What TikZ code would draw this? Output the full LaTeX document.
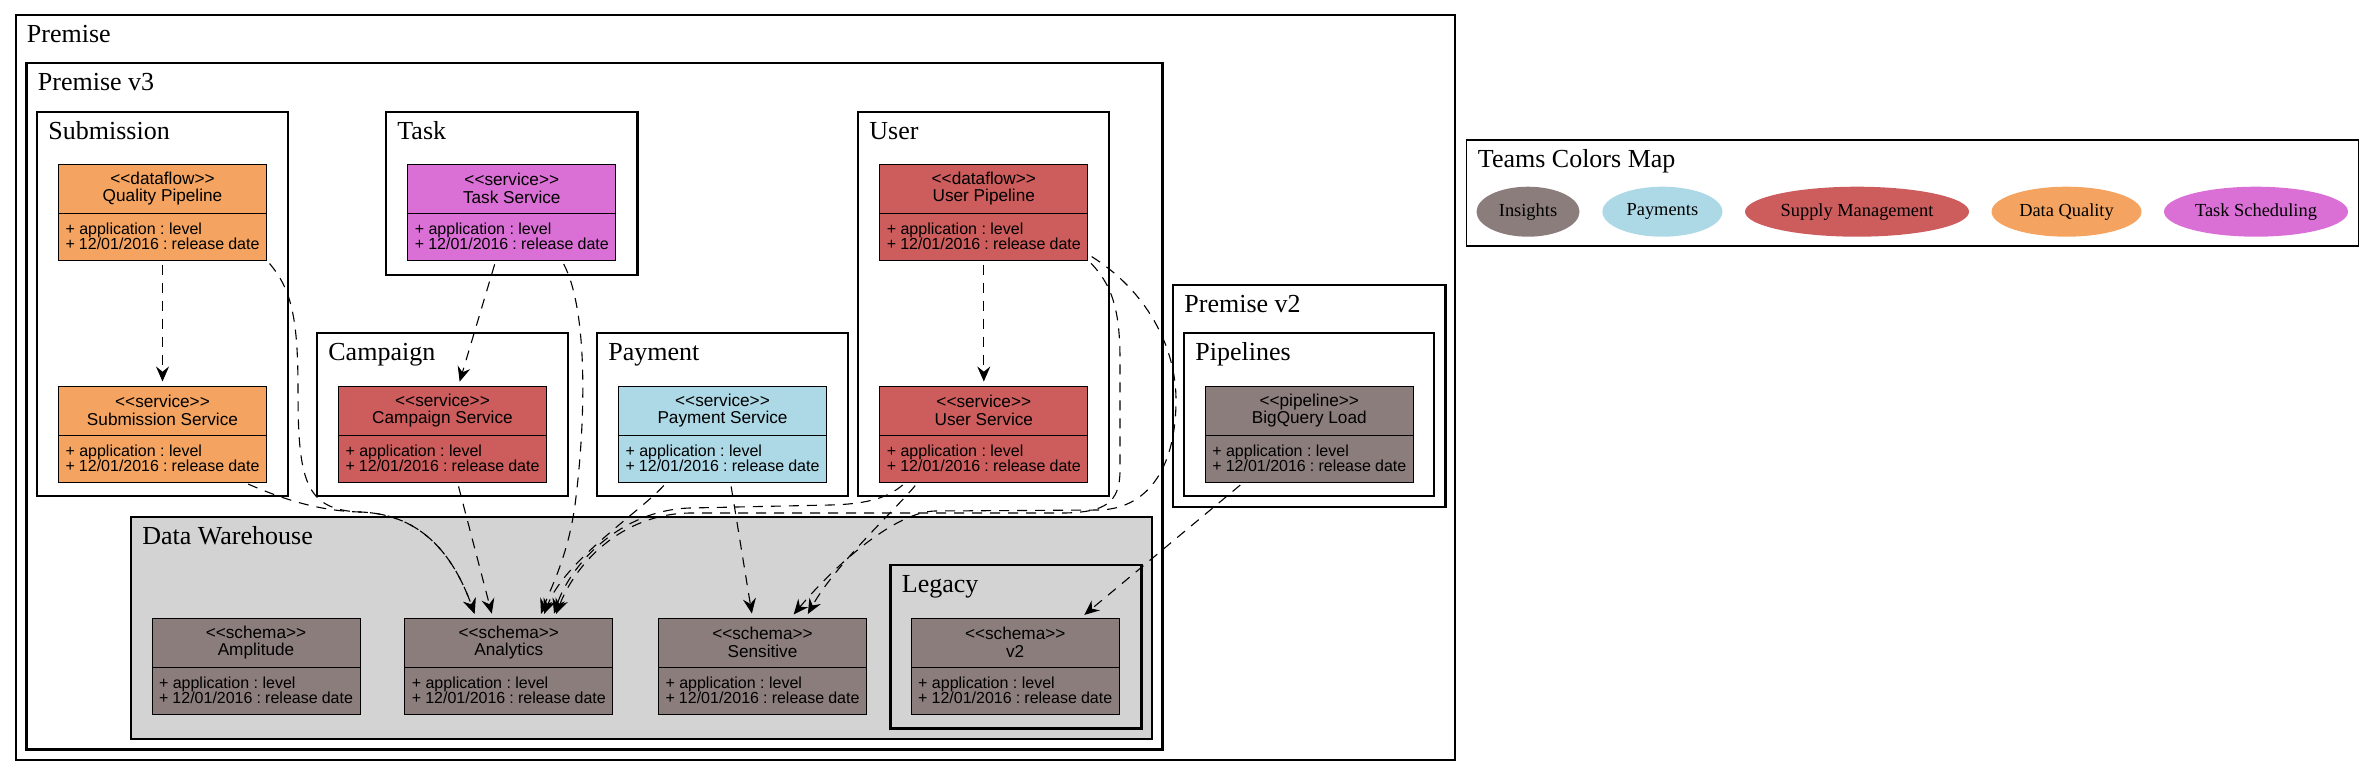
\documentclass[tikz,border=0pt]{standalone}
\usepackage{tikz}
\usepackage{xcolor}
\usepackage{fontspec}
\usetikzlibrary{shapes.multipart,shapes.geometric,arrows.meta}
\setmainfont{Liberation Serif}
\newfontfamily\umlfont{Liberation Sans}

\definecolor{insights}{HTML}{8B7D7B}
\definecolor{payments}{HTML}{ADD8E6}
\definecolor{supply}{HTML}{CD5C5C}
\definecolor{quality}{HTML}{F4A460}
\definecolor{scheduling}{HTML}{DA70D6}
\definecolor{warehouse}{HTML}{D3D3D3}

\newcommand{\Stereo}[1]{<\kern0pt<#1>\kern0pt>}
\newcommand{\Uml}[2]{%
	\parbox[c][24pt][c]{97pt}{\centering\lineskiplimit=-\maxdimen\fontsize{8.6}{8.8}\selectfont\Stereo{#1}\\#2}%
	\nodepart{two}%
	\parbox[c][23pt][c]{97pt}{\lineskiplimit=-\maxdimen\fontsize{8}{7.4}\selectfont + application : level\\+ 12/01/2016 : release date}}
\newcommand{\Cluster}[7][]{%
	\draw[cluster,#1] (#3,#4) rectangle (#5,#6);
	\node[clusterlabel] (#2) at (#3+11,#4+27) {#7};}

\begin{document}
\begin{tikzpicture}[x=0.5pt,y=-0.5pt]
				\tikzset{
				cluster/.style 		= {draw, line width=1.3pt},
				clusterlabel/.style = {anchor=base west, inner sep=0pt, font=\fontsize{13}{15}\selectfont},
				umlclass/.style 	= {rectangle split, rectangle split parts=2, draw, line width=0.5pt,
					inner xsep=3.5pt, inner ysep=0pt, font=\umlfont\frenchspacing},
				team/.style 		= {ellipse, inner sep=0pt, minimum height=25pt, font=\fontsize{9.2}{11}\selectfont},
				dep/.style 			= {dash pattern=on 5pt off 4pt, line width=0.55pt,
					-{Stealth[length=7.5pt, width=6.5pt, inset=2.6pt]}, shorten <=2pt, shorten >=2pt}}
				\useasboundingbox (0,0) rectangle (2375,776);
				
				\Cluster[line width=1pt]{premise}{15.5}{15}{1455}{759.5}{Premise}
				\Cluster{premisevthree}{26.5}{63}{1162.5}{749.3}{Premise v3}
				\Cluster{submission}{37}{112}{288}{496}{Submission}
				\Cluster{task}{386}{112}{637.5}{275}{Task}
				\Cluster{campaign}{317}{333}{568}{496}{Campaign}
				\Cluster{payment}{597}{333}{848}{496}{Payment}
				\Cluster{user}{858}{112}{1109}{496}{User}
				\Cluster[fill=warehouse]{warehouse}{131}{517}{1152}{739}{Data Warehouse}
				\Cluster[fill=warehouse]{legacy}{890.5}{565}{1141.5}{728.5}{Legacy}
				\Cluster{premisevtwo}{1173}{285}{1445.5}{507}{Premise v2}
				\Cluster{pipelines}{1184}{333}{1434}{496}{Pipelines}
				\Cluster[line width=0.6pt]{teams}{1466.5}{140}{2358.5}{246}{Teams Colors Map}
				
				\node[umlclass, fill=quality] (qualitypipe) at (162.5,212) {\Uml{dataflow}{Quality Pipeline}};
				\node[umlclass, fill=quality] (subservice) at (162.5,434) {\Uml{service}{Submission Service}};
				\node[umlclass, fill=scheduling] (taskservice) at (511.8,212) {\Uml{service}{Task Service}};
				\node[umlclass, fill=supply] (campaignservice) at (442.5,434) {\Uml{service}{Campaign Service}};
				\node[umlclass, fill=payments] (paymentservice) at (722.5,434) {\Uml{service}{Payment Service}};
				\node[umlclass, fill=supply] (userpipe) at (983.8,212) {\Uml{dataflow}{User Pipeline}};
				\node[umlclass, fill=supply] (userservice) at (983.8,434) {\Uml{service}{User Service}};
				\node[umlclass, fill=insights] (bigquery) at (1309.3,434) {\Uml{pipeline}{BigQuery Load}};
				\node[umlclass, fill=insights] (amplitude) at (256,666) {\Uml{schema}{Amplitude}};
				\node[umlclass, fill=insights] (analytics) at (508.8,666) {\Uml{schema}{Analytics}};
				\node[umlclass, fill=insights] (sensitive) at (762.5,666) {\Uml{schema}{Sensitive}};
				\node[umlclass, fill=insights] (legacyv2) at (1015.2,666) {\Uml{schema}{v2}};
				
				\node[team, fill=insights, minimum width=51.5pt] (insights) at (1528,211.7) {Insights};
				\node[team, fill=payments, minimum width=60pt] (payments) at (1662.4,211.7) {Payments};
				\node[team, fill=supply, minimum width=112pt] (supply) at (1857,211.7) {Supply Management};
				\node[team, fill=quality, minimum width=75pt] (dataquality) at (2066.5,211.7) {Data Quality};
				\node[team, fill=scheduling, minimum width=92pt] (scheduling) at (2256,211.7) {Task Scheduling};
				
				\draw[dep] (qualitypipe) -- (subservice);
				\draw[dep] (qualitypipe.south east) .. controls (292,290) and (298,320) .. (298,390) .. controls (298,480) and (305,510) .. (360,512) .. controls (425,514) and (455,560) .. ([xshift=-16.4pt]analytics.north);
				\draw[dep] ([xshift=41pt]subservice.south) .. controls (285,500) and (320,511) .. (360,512) .. controls (425,514) and (455,560) .. ([xshift=-16.4pt]analytics.north);
				\draw[dep] ([xshift=-8pt]taskservice.south) -- ([xshift=8pt]campaignservice.north);
				\draw[dep] ([xshift=25pt]taskservice.south) .. controls (588,310) and (586,420) .. (575,505) .. controls (568,556) and (550,590) .. ([xshift=15.4pt]analytics.north);
				\draw[dep] ([xshift=7.5pt]campaignservice.south) -- ([xshift=-8pt]analytics.north);
				\draw[dep] ([xshift=-28pt]paymentservice.south) .. controls (640,512) and (565,560) .. ([xshift=17pt]analytics.north);
				\draw[dep] ([xshift=4pt]paymentservice.south) -- ([xshift=-5pt]sensitive.north);
				\draw[dep] (userpipe) -- (userservice);
				\draw[dep] (userpipe.south east) .. controls (1112,285) and (1120,310) .. (1120,360) -- (1120,470) .. controls (1120,503) and (1105,512) .. (1065,513) -- (690,513) .. controls (620,514) and (575,565) .. ([xshift=23pt]analytics.north);
				\draw[dep] ([yshift=3pt]userpipe.south east) .. controls (1145,290) and (1176,345) .. (1176,400) .. controls (1176,465) and (1150,508) .. (1100,510) -- (935,511) .. controls (895,512) and (835,565) .. ([xshift=14.3pt]sensitive.north);
				\draw[dep] ([xshift=-39pt]userservice.south) .. controls (888,497) and (870,504) .. (830,505) -- (690,508) .. controls (620,510) and (570,565) .. ([xshift=22pt]analytics.north);
				\draw[dep] ([xshift=-33pt]userservice.south) .. controls (895,510) and (835,565) .. ([xshift=21.7pt]sensitive.north);
				\draw[dep] ([xshift=-33pt]bigquery.south) -- ([xshift=33pt]legacyv2.north);
				\end{tikzpicture}
\end{document}
